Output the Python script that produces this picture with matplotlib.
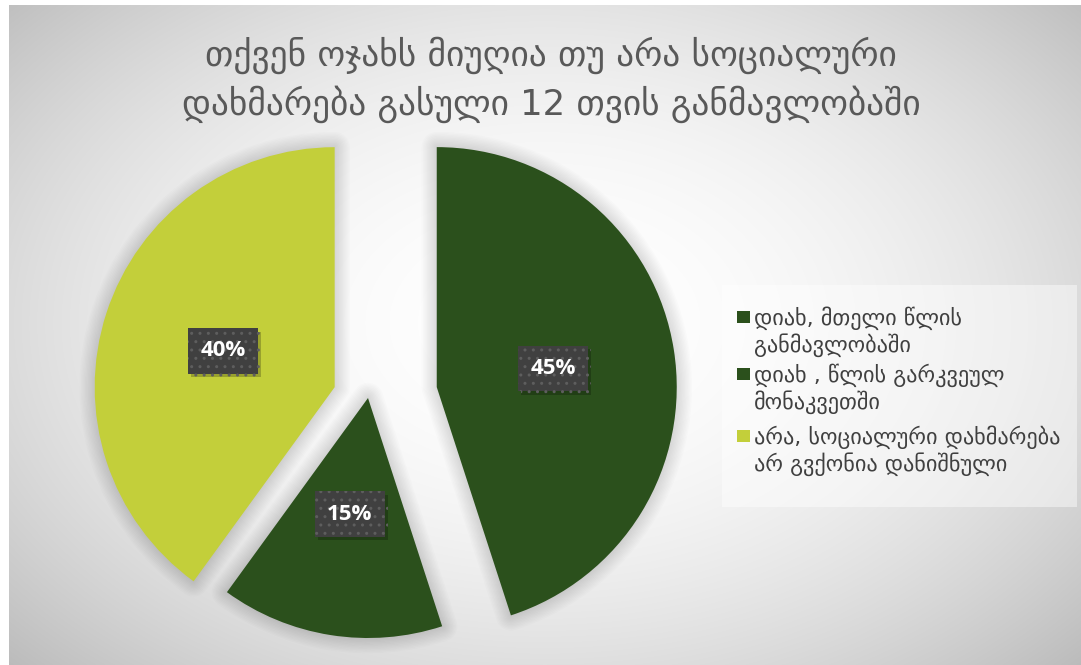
import numpy as np
import matplotlib
matplotlib.use("Agg")
import matplotlib.pyplot as plt
from matplotlib.patches import Rectangle
from matplotlib import patheffects as pe

# Survey answers: did the household receive social assistance in the past 12 months
categories = [
    "დიახ, მთელი წლის\nგანმავლობაში",
    "დიახ , წლის გარკვეულ\nმონაკვეთში",
    "არა, სოციალური დახმარება\nარ გვქონია დანიშნული",
]
shares = [45, 15, 40]
colors = ["#2b501c", "#2b501c", "#c3cf3a"]
explode = [0.29, 0.0, 0.146]
title = "თქვენ ოჯახს მიუღია თუ არა სოციალური\nდახმარება გასული 12 თვის განმავლობაში"

W, H = 1081, 665
fig = plt.figure(figsize=(W / 100, H / 100), dpi=100)
fig.patch.set_facecolor("white")

# radial grey backdrop
bg = fig.add_axes([9 / W, 0, 1 - 9 / W, 1 - 5 / H])
bg.set_axis_off()
yy, xx = np.mgrid[0:H, 0:W].astype(float)
d = np.sqrt(((xx - 540) / 640) ** 2 + ((yy - 320) / 430) ** 2)
val = 255 - 50 * np.clip(d, 0, 1.6) ** 2
val = np.clip(val, 0, 255) / 255
bg.imshow(np.dstack([val, val, val]), aspect="auto", interpolation="bilinear")

# pie axes: unit radius = 240 px, centre at (368, 398) px
ax = fig.add_axes([0, 0, 1, 1])
ax.set_facecolor("none")
cx, cy, r = 368, 398, 240

# soft halo under the slices
for lw in np.linspace(2, 22, 11):
    ax.pie(shares, explode=explode, startangle=90, counterclock=False, radius=1,
           wedgeprops=dict(facecolor="none", edgecolor="black", linewidth=lw,
                           alpha=0.010, joinstyle="round"))

wedges, texts, autotexts = ax.pie(
    shares, explode=explode, colors=colors, startangle=90, counterclock=False,
    radius=1, autopct="%1.0f%%", pctdistance=0.49,
    wedgeprops=dict(linewidth=0),
    textprops=dict(color="white", fontsize=16, fontweight="bold",
                   family=["Open Sans", "DejaVu Sans"]),
)
for t in autotexts:
    t.set_bbox(dict(boxstyle="square,pad=0.55", facecolor="#404040",
                    edgecolor="#5e5e5e", linewidth=0, hatch=".."))
    t.get_bbox_patch().set_path_effects(
        [pe.SimplePatchShadow(offset=(2.5, -2.5), shadow_rgbFace="black", alpha=0.22),
         pe.Normal()])

ax.set_xlim(-cx / r, (W - cx) / r)
ax.set_ylim((cy - H) / r, cy / r)
ax.set_aspect("auto")
ax.set_axis_off()

# title
fig.text(551 / W, 1 - 80 / H, title, ha="center", va="center", fontsize=25.5,
         color="#595959", linespacing=1.38, family=["DejaVu Sans"])

# legend panel
fig.patches.append(Rectangle((722 / W, 1 - 507 / H), (1077 - 722) / W, (507 - 285) / H,
                             transform=fig.transFigure, facecolor="white",
                             alpha=0.45, edgecolor="none", zorder=1))
entry_y = [317, 374, 436]
for lab, col, y0 in zip(categories, colors, entry_y):
    fig.patches.append(Rectangle((737 / W, 1 - (y0 + 6) / H), 13 / W, 12 / H,
                                 transform=fig.transFigure, facecolor=col,
                                 edgecolor="none", zorder=2))
    fig.text(754 / W, 1 - (y0 - 11) / H, lab, ha="left", va="top", fontsize=16,
             color="#404040", linespacing=1.2, family=["DejaVu Sans"], zorder=3)

fig.savefig("out.png", dpi=100, facecolor=fig.get_facecolor())
